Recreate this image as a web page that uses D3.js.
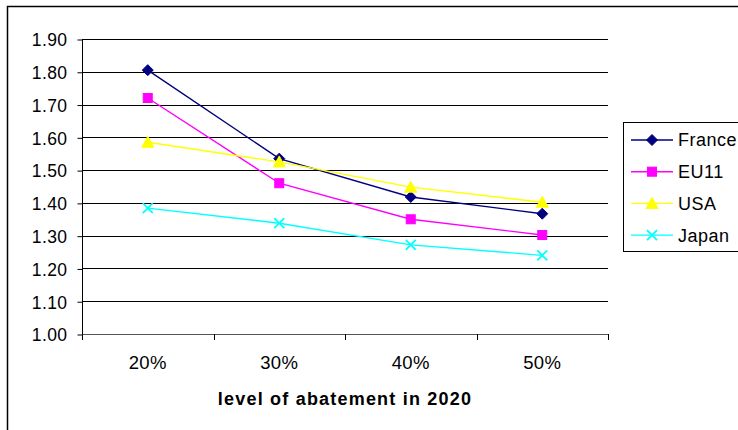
<!DOCTYPE html>
<html>
<head>
<meta charset="utf-8">
<script src="https://cdn.jsdelivr.net/npm/d3@7"></script>
<style>
  html, body { margin: 0; padding: 0; background: #fff; }
  svg { display: block; }
  text { font-family: Arial, "Liberation Sans", sans-serif; fill: #000; }
</style>
</head>
<body>
<svg id="chart" width="738" height="430"></svg>
<script>
// Abatement levels on the x axis
const categories = ["20%", "30%", "40%", "50%"];
// Values per region
const france = [1.805, 1.535, 1.418, 1.367];
const eu11   = [1.72, 1.46, 1.35, 1.302];
const usa    = [1.585, 1.525, 1.448, 1.402];
const japan  = [1.384, 1.338, 1.272, 1.24];
const seriesNames = ["France", "EU11", "USA", "Japan"];
const yTicks = [1.0, 1.1, 1.2, 1.3, 1.4, 1.5, 1.6, 1.7, 1.8, 1.9];
const xTitle = "level of abatement in 2020";

const seriesValues = [france, eu11, usa, japan];
const colors = ["#000080", "#FF00FF", "#FFFF00", "#00FFFF"];
const shapes = ["diamond", "square", "triangle", "cross"];

const svg = d3.select("#chart");
const plot = { left: 82, right: 608, top: 39, bottom: 334 };

// Outer chart frame
svg.append("rect")
  .attr("x", 7.5).attr("y", 6.5)
  .attr("width", 740).attr("height", 440)
  .attr("fill", "#fff").attr("stroke", "#000").attr("stroke-width", 1.5);

const x = d3.scaleBand().domain(categories).range([plot.left, plot.right]);
const y = d3.scaleLinear().domain([1.0, 1.9]).range([plot.bottom, plot.top]);

// Horizontal gridlines
svg.append("g").selectAll("line").data(yTicks.filter(d => d > 1.0)).join("line")
  .attr("x1", plot.left).attr("x2", plot.right)
  .attr("y1", d => Math.round(y(d)) + 0.5).attr("y2", d => Math.round(y(d)) + 0.5)
  .attr("stroke", "#000").attr("stroke-width", 1);

// Y axis
const yAxis = d3.axisLeft(y).tickValues(yTicks).tickFormat(d3.format(".2f"))
  .tickSize(5).tickPadding(12);
const gy = svg.append("g").attr("transform", `translate(${plot.left + 0.5},0.5)`).call(yAxis);
gy.select(".domain").remove();
gy.selectAll(".tick line").attr("stroke", "#000");
gy.selectAll(".tick text").attr("font-size", 17.5).attr("letter-spacing", 0.4)
  .attr("dy", "0.36em").attr("x", -15);
svg.append("line")
  .attr("x1", plot.left + 0.5).attr("x2", plot.left + 0.5)
  .attr("y1", plot.top).attr("y2", plot.bottom + 6)
  .attr("stroke", "#000");

// X axis with ticks between categories
svg.append("line")
  .attr("x1", plot.left).attr("x2", plot.right)
  .attr("y1", Math.round(y(1.0)) + 0.5).attr("y2", Math.round(y(1.0)) + 0.5)
  .attr("stroke", "#555");
const boundaries = categories.map(c => x(c)).concat([x(categories[categories.length - 1]) + x.bandwidth()]);
svg.append("g").selectAll("line").data(boundaries).join("line")
  .attr("x1", d => Math.round(d) + 0.5).attr("x2", d => Math.round(d) + 0.5)
  .attr("y1", plot.bottom).attr("y2", plot.bottom + 6)
  .attr("stroke", "#000");
svg.append("g").selectAll("text").data(categories).join("text")
  .attr("x", d => x(d) + x.bandwidth() / 2)
  .attr("y", 369)
  .attr("text-anchor", "middle")
  .attr("font-size", 18.5).attr("letter-spacing", 0.3)
  .text(d => d);

svg.append("text")
  .attr("x", 345).attr("y", 405)
  .attr("text-anchor", "middle")
  .attr("font-size", 18).attr("font-weight", "bold").attr("letter-spacing", 1.2)
  .text(xTitle);

// Marker drawing
function marker(g, shape, color, cx, cy) {
  if (shape === "diamond") {
    g.append("path").attr("d", `M${cx},${cy - 5.5}L${cx + 5.5},${cy}L${cx},${cy + 5.5}L${cx - 5.5},${cy}Z`)
      .attr("fill", color).attr("stroke", color);
  } else if (shape === "square") {
    g.append("rect").attr("x", cx - 4.5).attr("y", cy - 4.5).attr("width", 9).attr("height", 9)
      .attr("fill", color).attr("stroke", color);
  } else if (shape === "triangle") {
    g.append("path").attr("d", `M${cx},${cy - 6}L${cx + 6},${cy + 5}L${cx - 6},${cy + 5}Z`)
      .attr("fill", color).attr("stroke", color);
  } else {
    g.append("path").attr("d", `M${cx - 5},${cy - 5}L${cx + 5},${cy + 5}M${cx - 5},${cy + 5}L${cx + 5},${cy - 5}`)
      .attr("fill", "none").attr("stroke", color).attr("stroke-width", 1.8);
  }
}

// Series lines and markers
const line = d3.line().x((d, i) => x(categories[i]) + x.bandwidth() / 2).y(d => y(d));
seriesValues.forEach((vals, s) => {
  const g = svg.append("g");
  g.append("path").datum(vals).attr("d", line)
    .attr("fill", "none").attr("stroke", colors[s]).attr("stroke-width", 1.4);
  vals.forEach((v, i) => marker(g, shapes[s], colors[s], x(categories[i]) + x.bandwidth() / 2, y(v)));
});

// Legend
const lg = svg.append("g");
lg.append("rect").attr("x", 623.5).attr("y", 122.5).attr("width", 130).attr("height", 129)
  .attr("fill", "#fff").attr("stroke", "#000");
seriesNames.forEach((name, s) => {
  const cy = 140 + s * 31.7;
  lg.append("line").attr("x1", 631).attr("x2", 673).attr("y1", cy).attr("y2", cy)
    .attr("stroke", colors[s]).attr("stroke-width", 1.4);
  marker(lg, shapes[s], colors[s], 652, cy);
  lg.append("text").attr("x", 678).attr("y", cy).attr("dy", "0.36em")
    .attr("font-size", 18).attr("letter-spacing", 0.5).text(name);
});
</script>
</body>
</html>
